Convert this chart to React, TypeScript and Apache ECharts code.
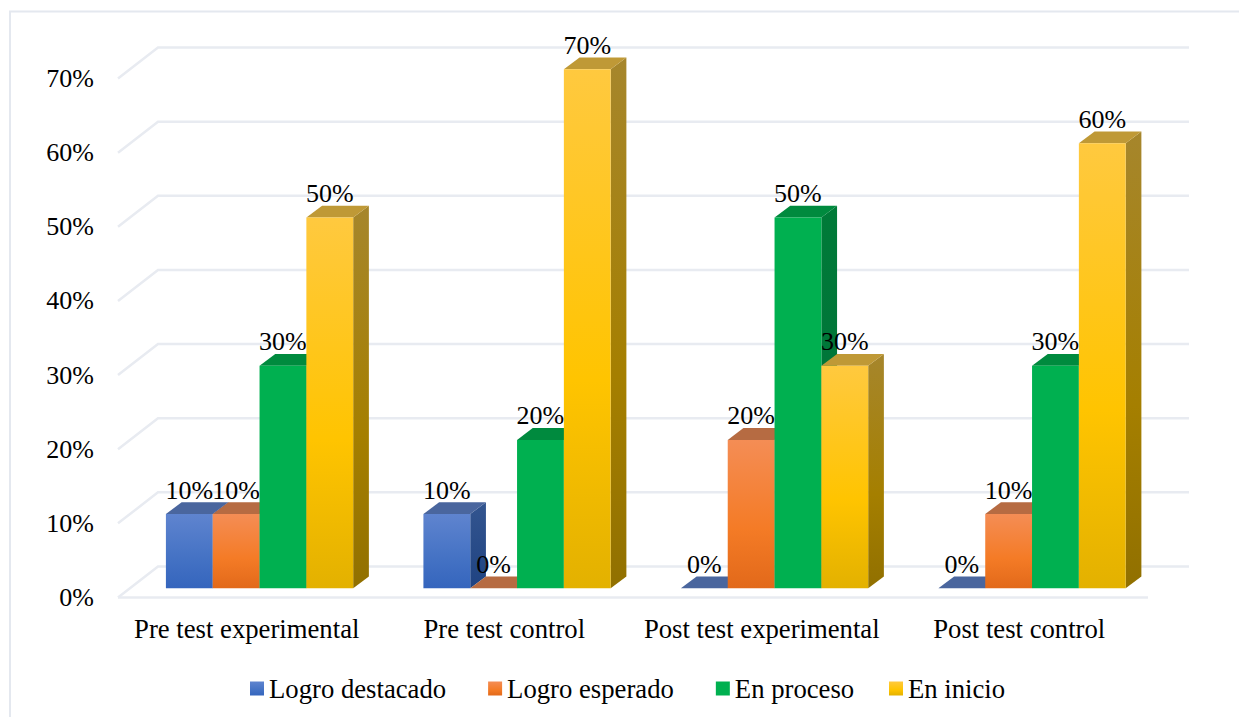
import React, { useEffect, useRef } from "react";
import * as echarts from "echarts";

const categories = ["Pre test experimental", "Pre test control", "Post test experimental", "Post test control"];
const logroDestacado = [10, 10, 0, 0];
const logroEsperado = [10, 0, 20, 10];
const enProceso = [30, 20, 50, 30];
const enInicio = [50, 70, 30, 60];
const axisTicks = [0, 10, 20, 30, 40, 50, 60, 70];

const FONT = "'Liberation Serif', 'Times New Roman', serif";
const grad = (stops: [number, string][]) =>
  new echarts.graphic.LinearGradient(0, 0, 0, 1, stops.map(([offset, color]) => ({ offset, color })));

const palettes = [
  {
    front: () => grad([[0, "#5f84cf"], [0.6, "#4472c4"], [1, "#3565bd"]]),
    side: () => grad([[0, "#33558f"], [1, "#1f4382"]]),
    top: "#4a669e",
  },
  {
    front: () => grad([[0, "#f48d55"], [0.6, "#f47b26"], [1, "#e2691a"]]),
    side: () => grad([[0, "#b0592a"], [1, "#9c4d1c"]]),
    top: "#b66b42",
  },
  {
    front: () => grad([[0, "#00b050"], [1, "#00b050"]]),
    side: () => grad([[0, "#007a38"], [1, "#00703a"]]),
    top: "#008a3e",
  },
  {
    front: () => grad([[0, "#ffc93f"], [0.6, "#ffc400"], [1, "#e3b100"]]),
    side: () => grad([[0, "#a6862c"], [0.6, "#a57f00"], [1, "#917000"]]),
    top: "#bf9936",
  },
];

const BAR_SHIFT_X = 12.8;
const BAR_SHIFT_Y = 9.3;
const DEPTH_X = 15.7;
const DEPTH_Y = 11.8;
const WALL_X = 40;
const WALL_Y = 31;
const GRID_COLOR = "#e8ebf1";

const barRenderer = (seriesIndex: number) => (params: any, api: any) => {
  const cat = api.value(0);
  const val = api.value(1);
  const band = api.size([1, 0])[0];
  const w = band / 5.5;
  const center = api.coord([cat, 0])[0];
  const x = center + (seriesIndex - 2) * w + BAR_SHIFT_X;
  const base = api.coord([cat, 0])[1] - BAR_SHIFT_Y;
  const y = api.coord([cat, val])[1] - BAR_SHIFT_Y;
  const p = palettes[seriesIndex];
  const children: any[] = [
    {
      type: "polygon",
      shape: { points: [[x + w, y], [x + w + DEPTH_X, y - DEPTH_Y], [x + w + DEPTH_X, base - DEPTH_Y], [x + w, base]] },
      style: { fill: p.side() },
    },
    {
      type: "polygon",
      shape: { points: [[x, y], [x + DEPTH_X, y - DEPTH_Y], [x + w + DEPTH_X, y - DEPTH_Y], [x + w, y]] },
      style: { fill: p.top },
    },
  ];
  if (val > 0) {
    children.push({ type: "rect", shape: { x, y, width: w, height: base - y }, style: { fill: p.front() } });
  }
  children.push({
    type: "text",
    z2: 20,
    style: {
      x: x + w / 2,
      y: y - 24,
      text: `${val}%`,
      fill: "#000",
      font: `26px ${FONT}`,
      align: "center",
      verticalAlign: "middle",
    },
  });
  return { type: "group", children };
};

const wallRenderer = (params: any, api: any) => {
  const v = api.value(0);
  const cs = params.coordSys;
  const y = api.coord([0, v])[1];
  const left = cs.x;
  const right = cs.x + cs.width;
  const lineStyle = { stroke: GRID_COLOR, lineWidth: 2.5, fill: "none" };
  const children: any[] = [
    {
      type: "polyline",
      shape: { points: [[left, y], [left + WALL_X, y - WALL_Y], [right + WALL_X + 1, y - WALL_Y]] },
      style: lineStyle,
    },
  ];
  if (v === 0) {
    children.push({ type: "line", shape: { x1: left, y1: y, x2: right, y2: y }, style: lineStyle });
  }
  return { type: "group", children };
};

const seriesDefs = [
  { name: "Logro destacado", values: logroDestacado },
  { name: "Logro esperado", values: logroEsperado },
  { name: "En proceso", values: enProceso },
  { name: "En inicio", values: enInicio },
];

const legendBase = {
  top: 670,
  padding: 5,
  itemWidth: 14,
  itemHeight: 14,
  icon: "rect",
  selectedMode: false,
  textStyle: { color: "#000", fontFamily: FONT, fontSize: 26.7 },
};

export default function App() {
  const ref = useRef<HTMLDivElement>(null);
  useEffect(() => {
    if (!ref.current) return;
    const chart = echarts.init(ref.current, undefined, { renderer: "svg" });
    chart.setOption({
      animation: false,
      backgroundColor: "#ffffff",
      grid: { left: 118, right: 91, top: 78.5, height: 519, containLabel: false },
      xAxis: {
        type: "category",
        data: categories,
        axisLine: { show: false },
        axisTick: { show: false },
        axisLabel: { color: "#000", fontFamily: FONT, fontSize: 26.7, margin: 18, interval: 0 },
      },
      yAxis: {
        type: "value",
        min: 0,
        max: 70,
        interval: 10,
        axisLine: { show: false },
        axisTick: { show: false },
        splitLine: { show: false },
        axisLabel: { color: "#000", fontFamily: FONT, fontSize: 26, margin: 24, formatter: "{value}%" },
      },
      legend: [
        { ...legendBase, left: 245, itemGap: 42, data: seriesDefs.slice(0, 3).map((s) => s.name) },
        { ...legendBase, left: 884, data: seriesDefs.slice(3).map((s) => s.name) },
      ],
      graphic: [
        {
          type: "polyline",
          silent: true,
          shape: { points: [[10, 717], [10, 11.5], [1239, 11.5]] },
          style: { stroke: "#e4e8ef", lineWidth: 2, fill: "none" },
        },
      ],
      series: [
        {
          type: "custom",
          name: "grid",
          silent: true,
          coordinateSystem: "cartesian2d",
          renderItem: wallRenderer,
          encode: { y: 0 },
          data: axisTicks.map((t) => [t]),
          z: 1,
        },
        ...seriesDefs.map((s, i) => ({
          type: "custom",
          name: s.name,
          coordinateSystem: "cartesian2d",
          renderItem: barRenderer(i),
          encode: { x: 0, y: 1 },
          itemStyle: { color: palettes[i].front() },
          data: s.values.map((v, c) => [c, v]),
          z: 2 + i,
        })),
      ],
    });
    return () => chart.dispose();
  }, []);
  return <div ref={ref} style={{ position: "absolute", left: 0, top: 0, width: 1239, height: 717 }} />;
}
